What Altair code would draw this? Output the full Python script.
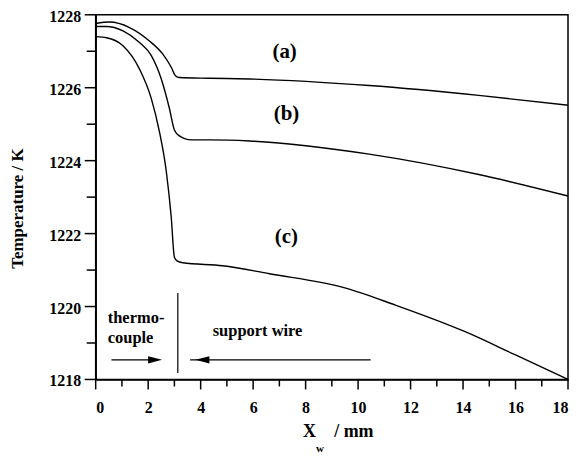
import altair as alt
import pandas as pd

# ---- data ----
xa = [0, 0.53, 1.29, 2.05, 2.56, 2.88, 3.04, 3.19, 4.33, 5.86, 10.42, 14.6, 18]
ta = [1227.76, 1227.80, 1227.65, 1227.28, 1226.92, 1226.56, 1226.33, 1226.28, 1226.26, 1226.24, 1226.06, 1225.79, 1225.52]

xb = [0, 0.4, 1.04, 1.67, 2.12, 2.5, 2.81, 3.0, 3.19, 3.64, 4.33, 5.86, 10.42, 14.6, 18]
tb = [1227.68, 1227.68, 1227.56, 1227.24, 1226.88, 1226.24, 1225.43, 1224.84, 1224.68, 1224.57, 1224.57, 1224.54, 1224.18, 1223.62, 1223.03]

xc = [0, 0.41, 1.04, 1.67, 2.12, 2.43, 2.69, 2.88, 3.0, 3.1, 3.32, 4.84, 6.62, 9.46, 11.42, 14.08, 15.98, 18]
tc = [1227.40, 1227.37, 1227.15, 1226.51, 1225.70, 1224.79, 1223.71, 1222.44, 1221.35, 1221.25, 1221.20, 1221.12, 1220.90, 1220.52, 1220.04, 1219.31, 1218.68, 1218.0]

curve_labels = ["(a)", "(b)", "(c)"]
curve_label_x = [7.2, 7.27, 7.27]
curve_label_t = [1226.97, 1225.29, 1221.9]

note_text = ["thermo-", "couple", "support wire"]
note_x = [0.46, 0.46, 4.46]
note_t = [1219.68, 1219.13, 1219.34]

x_ticks = list(range(0, 19))
y_ticks = list(range(1218, 1229))
x_major = [v for v in x_ticks if v % 2 == 0]
x_minor = [v for v in x_ticks if v % 2 == 1]
y_major = [v for v in y_ticks if v % 2 == 0]
y_minor = [v for v in y_ticks if v % 2 == 1]

FONT = "Liberation Serif"
PLOT_W, PLOT_H = 474, 366
TICK_COLOR = "black"

rows = []
for name, xs, ts in [("a", xa, ta), ("b", xb, tb), ("c", xc, tc)]:
    for x, t in zip(xs, ts):
        rows.append({"series": name, "x": x, "t": t})
df = pd.DataFrame(rows)

xscale = alt.Scale(domain=[0, 18], nice=False, zero=False)
yscale = alt.Scale(domain=[1218, 1228], nice=False, zero=False)

X = alt.X("x:Q", scale=xscale, title=None,
          axis=alt.Axis(values=x_ticks, ticks=False, labelPadding=20,
                        labelExpr="datum.value % 2 == 0 ? datum.label : ''"))
Y = alt.Y("t:Q", scale=yscale, title="Temperature / K",
          axis=alt.Axis(values=y_ticks, ticks=False, labelPadding=15, labelOffset=1.5,
                        labelExpr="datum.value % 2 == 0 ? datum.label : ''", format="d",
                        titleX=-73, titleY=194, titleBaseline="alphabetic",
                        titleAlign="center", titleAngle=270))

def XS(f="x:Q"):
    return alt.X(f, scale=xscale)

def YS(f="t:Q"):
    return alt.Y(f, scale=yscale)

lines = alt.Chart(df).mark_line(color="black", strokeWidth=1.4, interpolate="monotone").encode(
    x=X, y=Y, detail="series:N")

# tick marks drawn from the tick arrays through the scales (outward, as in the reference)
xmaj = alt.Chart(pd.DataFrame({"x": x_major})).mark_rule(
    color=TICK_COLOR, strokeWidth=1.5, yOffset=0).encode(
    x=XS(), y=alt.value(PLOT_H), y2=alt.value(PLOT_H + 10))
xmin = alt.Chart(pd.DataFrame({"x": x_minor})).mark_rule(
    color=TICK_COLOR, strokeWidth=1.5).encode(
    x=XS(), y=alt.value(PLOT_H), y2=alt.value(PLOT_H + 7))
ymaj = alt.Chart(pd.DataFrame({"t": y_major})).mark_rule(color=TICK_COLOR, strokeWidth=1.5).encode(
    y=YS(), x=alt.value(0), x2=alt.value(-11))
ymin = alt.Chart(pd.DataFrame({"t": y_minor})).mark_rule(color=TICK_COLOR, strokeWidth=1.5).encode(
    y=YS(), x=alt.value(0), x2=alt.value(-9))

lab_df = pd.DataFrame({"x": curve_label_x, "t": curve_label_t, "text": curve_labels})
labs = alt.Chart(lab_df).mark_text(font=FONT, fontSize=21, fontWeight="bold", color="black",
                                   align="center", baseline="middle").encode(
    x=XS(), y=YS(), text="text:N")

note_df = pd.DataFrame({"x": note_x, "t": note_t, "text": note_text})
notes = alt.Chart(note_df).mark_text(font=FONT, fontSize=16.5, fontWeight="bold", color="black",
                                     align="left", baseline="middle").encode(
    x=XS(), y=YS(), text="text:N")

# arrows and divider
seg_df = pd.DataFrame({
    "x": [0.6, 3.6, 3.13],
    "x2": [2.1, 10.48, 3.13],
    "t": [1218.54, 1218.54, 1218.18],
    "t2": [1218.54, 1218.54, 1220.37],
})
segs = alt.Chart(seg_df).mark_rule(color="black", strokeWidth=1.2).encode(
    x=XS(), x2="x2:Q", y=YS(), y2="t2:Q")

head_r = pd.DataFrame({"x": [2.53], "t": [1218.54]})
head_l = pd.DataFrame({"x": [3.8], "t": [1218.54]})
hr = alt.Chart(head_r).mark_point(shape="M0,0 L-1,-0.26 L-1,0.26 Z", filled=True, size=784,
                                  color="black", opacity=1).encode(x=XS(), y=YS())
hl = alt.Chart(head_l).mark_point(shape="M0,0 L1,-0.26 L1,0.26 Z", filled=True, size=784,
                                  color="black", opacity=1).encode(x=XS(), y=YS())

# x-axis title pieces: X, subscript w, / mm
xt_big = pd.DataFrame({"x": [7.9, 9.09], "t": [1216.42, 1216.42], "text": ["X", "/ mm"]})
xt_small = pd.DataFrame({"x": [8.4], "t": [1216.02], "text": ["w"]})
xtitle1 = alt.Chart(xt_big).mark_text(font=FONT, fontSize=18, fontWeight="bold", color="black",
                                      align="left", baseline="alphabetic").encode(
    x=XS(), y=YS(), text="text:N")
xtitle2 = alt.Chart(xt_small).mark_text(font=FONT, fontSize=11, fontWeight="bold", color="black",
                                        align="left", baseline="alphabetic").encode(
    x=XS(), y=YS(), text="text:N")

chart = alt.layer(lines, labs, notes, segs, hr, hl, xtitle1, xtitle2,
                  xmaj, xmin, ymaj, ymin).properties(
    width=PLOT_W, height=PLOT_H,
    background="white",
    autosize=alt.AutoSizeParams(type="none"),
    padding={"left": 88, "top": 6, "right": 2, "bottom": 77},
).configure_view(
    stroke="black", strokeWidth=1.5
).configure_axis(
    grid=False, domain=True, domainColor="black", domainWidth=1.5,
    labelFont=FONT, labelFontSize=16, labelFontWeight="bold", labelColor="black",
    titleFont=FONT, titleFontSize=17, titleFontWeight="bold", titleColor="black",
)

chart.save("out.html", embed_options={"renderer": "svg", "actions": False})
